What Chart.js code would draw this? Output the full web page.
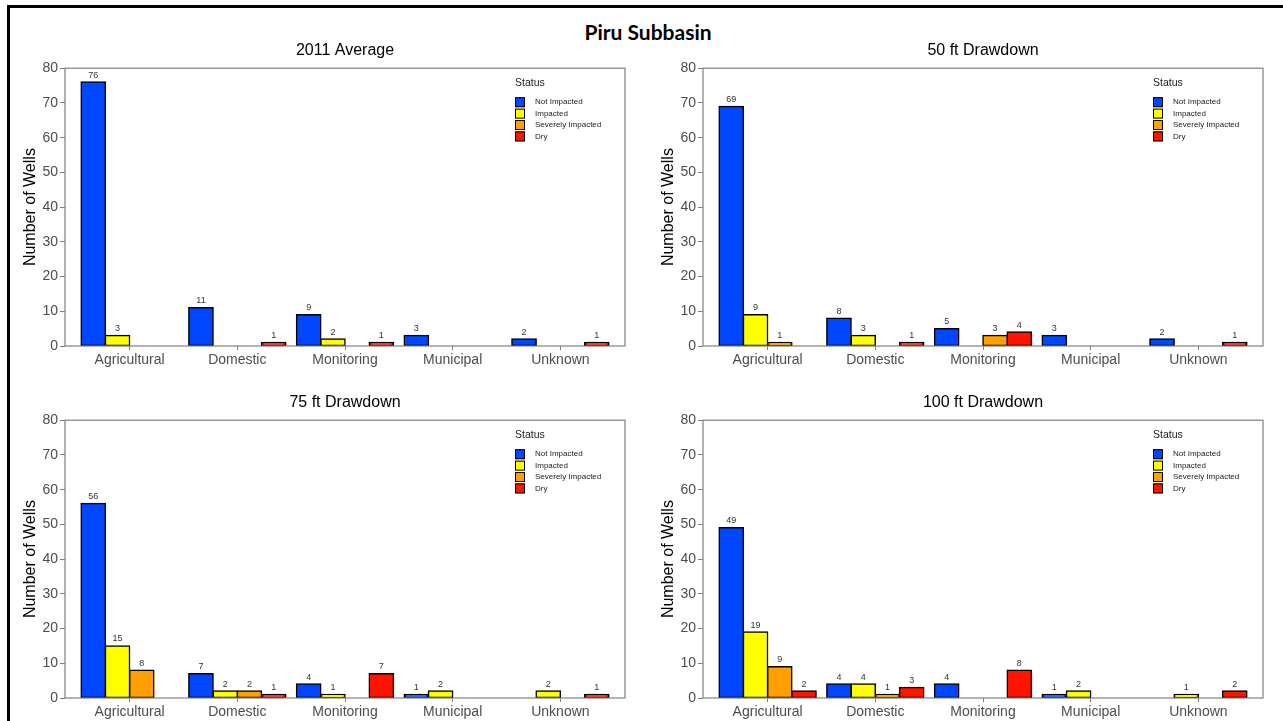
<!DOCTYPE html>
<html>
<head>
<meta charset="utf-8">
<title>Piru Subbasin</title>
<script src="https://cdn.jsdelivr.net/npm/chart.js@4.4.1/dist/chart.umd.min.js"></script>
<style>
    html, body { margin: 0; padding: 0; background: #fff; overflow: hidden; }
    #frame { position: absolute; left: 7px; top: 5px; right: -10px; bottom: -10px; border-left: 3px solid #000; border-top: 3px solid #000; }
    #mainTitle { position: absolute; left: 0; width: 1296px; top: 19px; line-height: 24px; text-align: center; font: bold 21px Lato, "Open Sans", sans-serif; color: #000; }
    .panel { position: absolute; }
</style>
</head>
<body>
<div id="frame"></div>
<div id="mainTitle">Piru Subbasin</div>
<canvas id="chartAvg" class="panel" width="620" height="330" style="left:10px;top:40px"></canvas>
<canvas id="chart50" class="panel" width="620" height="330" style="left:648px;top:40px"></canvas>
<canvas id="chart75" class="panel" width="620" height="330" style="left:10px;top:392px"></canvas>
<canvas id="chart100" class="panel" width="620" height="330" style="left:648px;top:392px"></canvas>
<script>
// categories and legend entries
const categories = ['Agricultural', 'Domestic', 'Monitoring', 'Municipal', 'Unknown'];
const statuses = ['Not Impacted', 'Impacted', 'Severely Impacted', 'Dry'];
const statusColors = ['#0047ff', '#ffff00', '#ff9f00', '#ff1400'];

// y axis
const yMax = 80;
const yStep = 10;

// 2011 Average
const avgNotImpacted = [76, 11, 9, 3, 2];
const avgImpacted = [3, 0, 2, 0, 0];
const avgSevere = [0, 0, 0, 0, 0];
const avgDry = [0, 1, 1, 0, 1];

// 50 ft Drawdown
const dd50NotImpacted = [69, 8, 5, 3, 2];
const dd50Impacted = [9, 3, 0, 0, 0];
const dd50Severe = [1, 0, 3, 0, 0];
const dd50Dry = [0, 1, 4, 0, 1];

// 75 ft Drawdown
const dd75NotImpacted = [56, 7, 4, 1, 0];
const dd75Impacted = [15, 2, 1, 2, 2];
const dd75Severe = [8, 2, 0, 0, 0];
const dd75Dry = [0, 1, 7, 0, 1];

// 100 ft Drawdown
const dd100NotImpacted = [49, 4, 4, 1, 0];
const dd100Impacted = [19, 4, 0, 2, 1];
const dd100Severe = [9, 1, 0, 0, 0];
const dd100Dry = [2, 3, 8, 0, 2];

Chart.defaults.font.family = '"Liberation Sans", Arial, sans-serif';
Chart.defaults.animation = false;

// gray frame around the plot area
const panelBorder = {
    id: 'panelBorder',
    afterDraw(chart) {
        const { ctx, chartArea: a } = chart;
        ctx.save();
        ctx.strokeStyle = '#808080';
        ctx.lineWidth = 1.2;
        ctx.strokeRect(a.left, a.top, a.right - a.left, a.bottom - a.top);
        ctx.restore();
    }
};

// count above each bar
const valueLabels = {
    id: 'valueLabels',
    afterDatasetsDraw(chart) {
        const ctx = chart.ctx;
        ctx.save();
        ctx.font = '9px "Liberation Sans", Arial, sans-serif';
        ctx.fillStyle = '#333';
        ctx.textAlign = 'center';
        ctx.textBaseline = 'middle';
        chart.data.datasets.forEach((ds, i) => {
            chart.getDatasetMeta(i).data.forEach((bar, j) => {
                const v = ds.data[j].y;
                if (v === null) return;
                ctx.fillText(String(v), bar.x, bar.y - 7);
            });
        });
        ctx.restore();
    }
};

// "Status" legend inside the plot, top right
const statusLegend = {
    id: 'statusLegend',
    afterDraw(chart) {
        const { ctx, chartArea: a } = chart;
        const x = a.right - 110;
        ctx.save();
        ctx.textBaseline = 'middle';
        ctx.textAlign = 'left';
        ctx.fillStyle = '#1a1a1a';
        ctx.font = '10.5px "Liberation Sans", Arial, sans-serif';
        ctx.fillText('Status', x, a.top + 15);
        ctx.font = '8px "Liberation Sans", Arial, sans-serif';
        chart.data.datasets.forEach((ds, i) => {
            const y = a.top + 34 + i * 11.4;
            ctx.fillStyle = ds.backgroundColor;
            ctx.fillRect(x, y - 5, 10, 10);
            ctx.strokeStyle = '#000';
            ctx.lineWidth = 1;
            ctx.strokeRect(x + 0.5, y - 4.5, 9, 9);
            ctx.fillStyle = '#1a1a1a';
            ctx.fillText(ds.label, x + 20, y);
        });
        ctx.restore();
    }
};

function makeChart(canvasId, title, series) {
    const canvas = document.getElementById(canvasId);
    return new Chart(canvas, {
        type: 'bar',
        data: {
            datasets: series.map((values, s) => ({
                label: statuses[s],
                data: values.map((v, i) => ({ x: i, y: v === 0 ? null : v })),
                backgroundColor: statusColors[s],
                borderColor: '#000',
                borderWidth: 1.5,
                borderSkipped: false,
                inflateAmount: 0.75,
                categoryPercentage: 0.9,
                barPercentage: 1
            }))
        },
        options: {
            responsive: false,
            layout: { padding: { left: 0, right: 5, top: 0, bottom: 0 } },
            plugins: {
                legend: { display: false },
                tooltip: { enabled: false },
                title: {
                    display: true,
                    text: title,
                    fullSize: false,
                    color: '#000',
                    font: { size: 16, weight: 'normal' },
                    padding: { top: 1, bottom: 8 }
                }
            },
            scales: {
                x: {
                    type: 'linear',
                    min: -0.6,
                    max: categories.length - 0.4,
                    offset: false,
                    afterBuildTicks: s => { s.ticks = categories.map((c, i) => ({ value: i })); },
                    afterFit: s => { s.height = 24; },
                    border: { display: false },
                    grid: { offset: false, drawOnChartArea: false, drawTicks: true, tickLength: 4, color: '#808080' },
                    ticks: {
                        autoSkip: false,
                        maxRotation: 0,
                        padding: 2,
                        color: '#4d4d4d',
                        font: { size: 14 },
                        callback: v => categories[v]
                    }
                },
                y: {
                    min: 0,
                    max: yMax,
                    afterFit: s => { s.width = 55; },
                    border: { display: false },
                    grid: { drawOnChartArea: false, drawTicks: true, tickLength: 5, color: '#808080' },
                    ticks: { stepSize: yStep, padding: 2, color: '#4d4d4d', font: { size: 14 } },
                    title: {
                        display: true,
                        text: 'Number of Wells',
                        color: '#000',
                        font: { size: 16 },
                        padding: { top: 11, bottom: 0 }
                    }
                }
            }
        },
        plugins: [panelBorder, valueLabels, statusLegend]
    });
}

document.addEventListener('DOMContentLoaded', function() {
    makeChart('chartAvg', '2011 Average', [avgNotImpacted, avgImpacted, avgSevere, avgDry]);
    makeChart('chart50', '50 ft Drawdown', [dd50NotImpacted, dd50Impacted, dd50Severe, dd50Dry]);
    makeChart('chart75', '75 ft Drawdown', [dd75NotImpacted, dd75Impacted, dd75Severe, dd75Dry]);
    makeChart('chart100', '100 ft Drawdown', [dd100NotImpacted, dd100Impacted, dd100Severe, dd100Dry]);
});
</script>
</body>
</html>
